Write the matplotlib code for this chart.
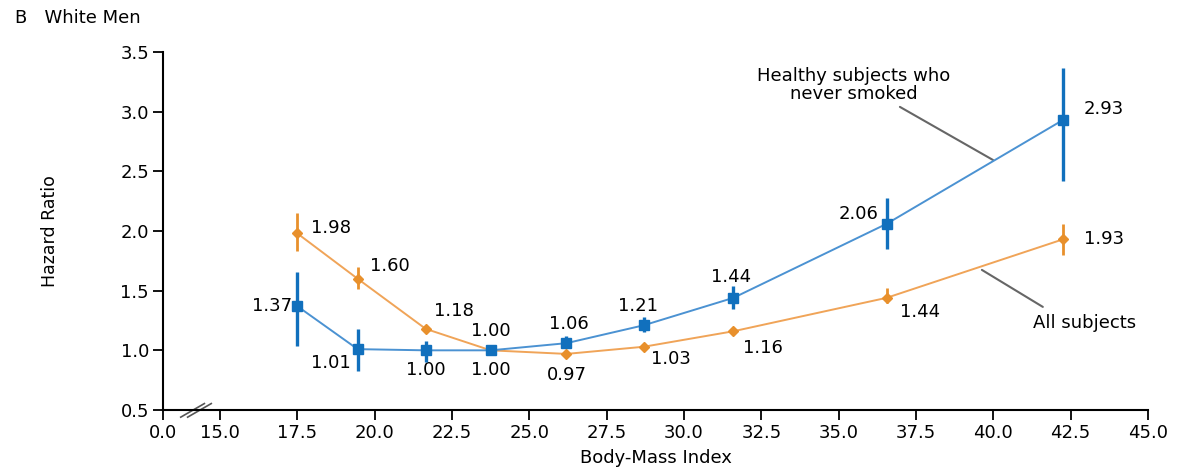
import numpy as np
import matplotlib
matplotlib.use('Agg')
import matplotlib.pyplot as plt

# data
bmi_healthy = [17.5, 19.45, 21.65, 23.75, 26.2, 28.7, 31.6, 36.55, 42.25]
hr_healthy = [1.37, 1.01, 1.00, 1.00, 1.06, 1.21, 1.44, 2.06, 2.93]
lo_healthy = [1.04, 0.83, 0.90, 1.00, 1.03, 1.15, 1.35, 1.85, 2.42]
hi_healthy = [1.66, 1.18, 1.08, 1.00, 1.12, 1.28, 1.54, 2.28, 3.37]

bmi_all = [17.5, 19.45, 21.65, 23.75, 26.2, 28.7, 31.6, 36.55, 42.25]
hr_all = [1.98, 1.60, 1.18, 1.00, 0.97, 1.03, 1.16, 1.44, 1.93]
lo_all = [1.83, 1.51, 1.16, 1.00, 0.96, 1.02, 1.14, 1.40, 1.80]
hi_all = [2.15, 1.70, 1.20, 1.00, 0.98, 1.04, 1.18, 1.52, 2.06]

xtick_vals = [15.0, 17.5, 20.0, 22.5, 25.0, 27.5, 30.0, 32.5, 35.0, 37.5, 40.0, 42.5, 45.0]
ytick_vals = [0.5, 1.0, 1.5, 2.0, 2.5, 3.0, 3.5]

# label offsets in points (dx, dy) and alignment per point
lab_healthy = [(-4, 0, 'right'), (-5, -10, 'right'), (0, -14, 'center'),
               (0, 14, 'center'), (2, 14, 'center'), (-4, 14, 'center'),
               (-2, 15, 'center'), (-6, 7, 'right'), (15, 8, 'left')]
lab_all = [(10, 4, 'left'), (9, 9, 'left'), (6, 13, 'left'),
           (0, -14, 'center'), (0, -15, 'center'), (5, -9, 'left'),
           (7, -12, 'left'), (10, -10, 'left'), (15, 0, 'left')]

BLUE = '#1170bd'
BLUE_LINE = '#4b92d2'
ORANGE = '#e8902c'
ORANGE_LINE = '#f0a458'
FS = 13

fig = plt.figure(figsize=(11.78, 4.74), dpi=100)
ax = fig.add_axes([163 / 1178, 1 - 410 / 474, (1148 - 163) / 1178, (410 - 52) / 474])

x0 = 15 - 57 / 30.95  # position used for the "0.0" tick before the break

hy = np.array(hr_healthy)
ay = np.array(hr_all)

ax.plot(bmi_all, hr_all, color=ORANGE_LINE, lw=1.4, zorder=2)
ax.errorbar(bmi_all, hr_all,
            yerr=[ay - np.array(lo_all), np.array(hi_all) - ay],
            fmt='D', ms=5, color=ORANGE, ecolor=ORANGE, elinewidth=2.0,
            capsize=0, zorder=3)

ax.plot(bmi_healthy, hr_healthy, color=BLUE_LINE, lw=1.4, zorder=4)
ax.errorbar(bmi_healthy, hr_healthy,
            yerr=[hy - np.array(lo_healthy), np.array(hi_healthy) - hy],
            fmt='s', ms=6.5, color=BLUE, ecolor=BLUE, elinewidth=2.4,
            capsize=0, zorder=5)

for x, y, (dx, dy, ha) in zip(bmi_healthy, hr_healthy, lab_healthy):
    ax.annotate(f'{y:.2f}', (x, y), xytext=(dx, dy), textcoords='offset points',
                ha=ha, va='center', fontsize=FS)
for x, y, (dx, dy, ha) in zip(bmi_all, hr_all, lab_all):
    ax.annotate(f'{y:.2f}', (x, y), xytext=(dx, dy), textcoords='offset points',
                ha=ha, va='center', fontsize=FS)

# series callouts
ax.text(35.5, 3.22, 'Healthy subjects who\nnever smoked', ha='center', va='center',
        fontsize=FS, linespacing=1.0)
ax.annotate('', xy=(39.99, 2.595), xytext=(36.98, 3.04),
            arrowprops=dict(arrowstyle='-', color='#666666', lw=1.5,
                            shrinkA=0, shrinkB=0))
ax.text(42.95, 1.23, 'All subjects', ha='center', va='center', fontsize=FS)
ax.annotate('', xy=(39.63, 1.674), xytext=(41.6, 1.364),
            arrowprops=dict(arrowstyle='-', color='#666666', lw=1.5,
                            shrinkA=0, shrinkB=0))

ax.set_xlim(x0, 45)
ax.set_ylim(0.5, 3.5)
ax.set_xticks([x0] + xtick_vals)
ax.set_xticklabels(['0.0'] + [f'{v:.1f}' for v in xtick_vals], fontsize=FS)
ax.set_yticks(ytick_vals)
ax.set_yticklabels([f'{v:.1f}' for v in ytick_vals], fontsize=FS)
ax.tick_params(direction='out', length=7, width=1.3, pad=3)

for side in ['top', 'right']:
    ax.spines[side].set_visible(False)
for side in ['left', 'bottom']:
    ax.spines[side].set_linewidth(1.5)

# axis break marks
for off in (0.0, 0.007):
    ax.plot([0.018 + off, 0.042 + off], [-0.02, 0.018], transform=ax.transAxes,
            color='#555555', lw=1.2, clip_on=False)

ax.set_xlabel('Body-Mass Index', fontsize=FS, labelpad=5)
ax.set_ylabel('Hazard Ratio', fontsize=12.5, labelpad=44)
fig.text(15 / 1178, 1 - 18 / 474, 'B   White Men', fontsize=FS, va='center', ha='left')

fig.savefig('out.png', dpi=100)
